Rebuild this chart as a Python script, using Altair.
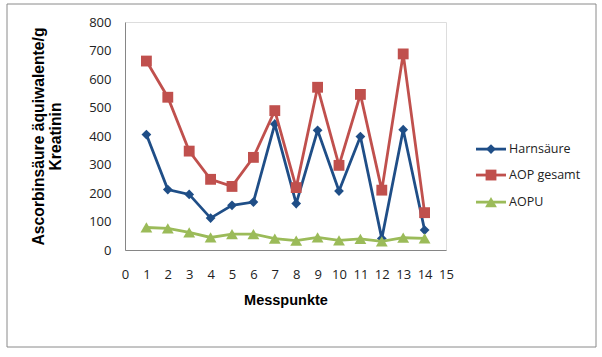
import altair as alt
import pandas as pd

messpunkte = list(range(1, 15))
harnsaeure = [405, 212, 195, 112, 157, 168, 442, 163, 420, 207, 398, 40, 422, 70]
aop_gesamt = [663, 536, 347, 248, 223, 325, 489, 219, 571, 297, 546, 210, 688, 131]
aopu = [79, 76, 62, 44, 56, 56, 40, 33, 44, 34, 39, 30, 43, 41]

series_names = ["Harnsäure", "AOP gesamt", "AOPU"]
series_colors = ["#1F4E87", "#C0504D", "#9BBB59"]
series_shapes = ["diamond", "square", "triangle-up"]
series_sizes = [95, 140, 130]

x_ticks = list(range(0, 16))
y_ticks = list(range(0, 801, 100))

rows = []
for name, vals in zip(series_names, [harnsaeure, aop_gesamt, aopu]):
    for m, v in zip(messpunkte, vals):
        rows.append({"Messpunkt": m, "Wert": v, "Serie": name})
df = pd.DataFrame(rows)

# legend entries placed (in data units of the y scale) to the right of the plot
legend_df = pd.DataFrame({"Serie": series_names, "ly": [354, 263, 168]})

W, H = 321, 228
FONT = "Open Sans"

color_scale = alt.Scale(domain=series_names, range=series_colors)
shape_scale = alt.Scale(domain=series_names, range=series_shapes)
size_scale = alt.Scale(domain=series_names, range=series_sizes)

x_axis = alt.Axis(
    values=x_ticks, title="Messpunkte", ticks=False, grid=False,
    labelPadding=18, labelFont=FONT, labelFontSize=13, labelColor="#222",
    domainColor="#868686", labelFlush=False, labelOverlap=False,
    titleFont="Liberation Sans", titleFontSize=14.5, titleFontWeight="bold",
    titleColor="#000", titleY=50, titleBaseline="middle",
)
y_axis = alt.Axis(
    values=y_ticks, title=["Ascorbinsäure äquiwalente/g", "Kreatinin"],
    ticks=False, grid=False, labelPadding=14, labelFont=FONT,
    labelFontSize=13, labelColor="#222", domainColor="#868686",
    labelFlush=False, labelOverlap=False,
    titleFont="Liberation Sans", titleFontSize=15.7, titleFontWeight="bold",
    titleColor="#000", titleX=-87, titleY=114, titleAngle=-90,
    titleBaseline="middle", titleAlign="center", titleLineHeight=17,
)
x_enc = alt.X("Messpunkt:Q", scale=alt.Scale(domain=[0, 15], nice=False), axis=x_axis)
y_enc = alt.Y("Wert:Q", scale=alt.Scale(domain=[0, 800], nice=False), axis=y_axis)

base = alt.Chart(df)

frame = alt.Chart(pd.DataFrame({"k": [0]})).mark_rect(
    fillOpacity=0, stroke="#8A8A8A", strokeWidth=1
).encode(
    x=alt.value(-118), x2=alt.value(471), y=alt.value(-18), y2=alt.value(325)
)

layers = [frame]
for name in series_names:
    sub = base.transform_filter(alt.datum.Serie == name)
    line = sub.mark_line(strokeWidth=2.8).encode(
        x=x_enc, y=y_enc,
        color=alt.Color("Serie:N", scale=color_scale, legend=None),
    )
    pts = sub.mark_point(filled=True, opacity=1).encode(
        x=x_enc, y=y_enc,
        color=alt.Color("Serie:N", scale=color_scale, legend=None),
        shape=alt.Shape("Serie:N", scale=shape_scale, legend=None),
        size=alt.Size("Serie:N", scale=size_scale, legend=None),
    )
    layers += [line, pts]

leg = alt.Chart(legend_df)
ly_enc = alt.Y("ly:Q", scale=alt.Scale(domain=[0, 800], nice=False), axis=y_axis)
leg_rule = leg.mark_rule(strokeWidth=2.8).encode(
    x=alt.value(351), x2=alt.value(381), y=ly_enc,
    color=alt.Color("Serie:N", scale=color_scale, legend=None),
)
leg_pt = leg.mark_point(filled=True, opacity=1).encode(
    x=alt.value(366), y=ly_enc,
    color=alt.Color("Serie:N", scale=color_scale, legend=None),
    shape=alt.Shape("Serie:N", scale=shape_scale, legend=None),
    size=alt.Size("Serie:N", scale=size_scale, legend=None),
)
leg_txt = leg.mark_text(
    align="left", baseline="middle", font=FONT, fontSize=12.5, color="#222"
).encode(x=alt.value(384), y=ly_enc, text="Serie:N")
layers += [leg_rule, leg_pt, leg_txt]

chart = alt.layer(*layers).properties(
    width=W, height=H,
    autosize=alt.AutoSizeParams(type="none"),
    padding={"left": 125, "top": 22, "right": 602 - 125 - W, "bottom": 357 - 22 - H},
).configure_view(stroke=None).configure(background="white")

chart.save("out.html", embed_options={"renderer": "svg", "actions": False})
